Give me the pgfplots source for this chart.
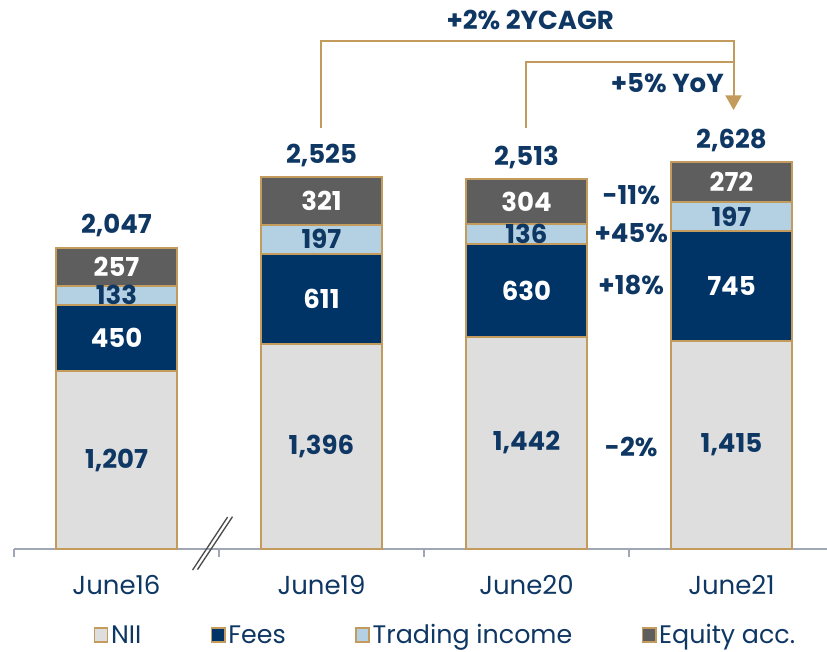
\documentclass[border=0pt]{standalone}
\usepackage{fontspec}
\setmainfont{Poppins}
\usepackage{pgfplots}
\pgfplotsset{compat=1.18}
\usepackage{pgfplotstable}
\usetikzlibrary{arrows.meta}
\definecolor{navy}{HTML}{0F3764}
\definecolor{fees}{HTML}{003366}
\definecolor{nii}{HTML}{DEDEDE}
\definecolor{trad}{HTML}{B3D1E3}
\definecolor{eq}{HTML}{5E5E5E}
\definecolor{tan}{HTML}{C39B5C}
\definecolor{axgrey}{HTML}{A0A6B4}

\pgfplotstableread{
x nii fees trad eq tot
0 1207 450 133 257 2047
1 1396 611 197 321 2525
2 1442 630 136 304 2513
3 1415 745 197 272 2628
}\data

\newcommand{\valfont}{\bfseries\fontsize{19.5}{23}\selectfont}
\newcommand{\lblfont}{\fontsize{19.5}{23}\selectfont}
\newcommand{\legfont}{\fontsize{19}{23}\selectfont}

\pgfplotsset{common/.style={
  at={(0,0)}, anchor=south west,
  scale only axis, width=609.75pt, height=411.75pt,
  xmin=-0.5, xmax=3.466, ymin=0, ymax=3730, clip=false,
  /pgf/number format/1000 sep={,},
  /pgf/number format/assume math mode=true}}

\begin{document}
\begin{tikzpicture}
\begin{axis}[
  common, name=ax,
  ybar stacked, bar width=90.75pt,
  axis x line*=bottom, axis y line=none,
  x axis line style={draw=axgrey, line width=1.5pt, -},
  xtick={0,1,2,3}, xticklabels={June16,June19,June20,June21},
  major tick length=0pt,
  minor xtick={-0.5,0.5,1.5,2.5},
  minor tick length=6pt,
  tick align=outside,
  minor tick style={draw=axgrey, line width=1.2pt},
  xticklabel style={anchor=center, yshift=-27pt, font=\lblfont, text=navy},
  point meta=explicit,
  nodes near coords,
  nodes near coords style={font=\valfont, anchor=center},
  legend style={at={(0.531,-0.157)}, anchor=center, legend columns=4, draw=none,
    font=\legfont, text=navy,
    /tikz/every even column/.append style={column sep=50pt}},
  legend image code/.code={\draw[#1, draw=tan, line width=1.2pt] (0pt,-5pt) rectangle (10pt,5.5pt);},
]
\addplot[fill=nii, draw=tan, line width=1.5pt, every node near coord/.append style={text=navy}] table[x=x, y=nii, meta=nii] {\data};
\addplot[fill=fees, draw=tan, line width=1.5pt, every node near coord/.append style={text=white}] table[x=x, y=fees, meta=fees] {\data};
\addplot[fill=trad, draw=tan, line width=1.5pt, every node near coord/.append style={text=navy}] table[x=x, y=trad, meta=trad] {\data};
\addplot[fill=eq, draw=tan, line width=1.5pt, every node near coord/.append style={text=white}] table[x=x, y=eq, meta=eq] {\data};
\legend{NII, Fees, Trading income, Equity acc.}

\draw[tan, line width=1.5pt, -{Triangle[width=12pt,length=11pt]}] (axis cs:1,2860) |- (axis cs:3.01,3451) -- (axis cs:3.01,2982);
\draw[tan, line width=1.5pt] (axis cs:2,2860) |- (axis cs:3.01,3308);
\node[font=\valfont, text=navy] at (axis cs:2.018,3594) {+2\% 2YCAGR};
\node[font=\valfont, text=navy] at (axis cs:2.687,3166) {+5\% YoY};
\node[font=\valfont, text=navy] at (axis cs:2.511,2405) {-11\%};
\node[font=\valfont, text=navy] at (axis cs:2.511,2147) {+45\%};
\node[font=\valfont, text=navy] at (axis cs:2.511,1793) {+18\%};
\node[font=\valfont, text=navy] at (axis cs:2.511,693) {-2\%};
\draw[black!70, line width=1pt] (axis cs:0.371,-143) -- (axis cs:0.542,217);
\draw[black!70, line width=1pt] (axis cs:0.395,-140) -- (axis cs:0.566,220);
\end{axis}
\begin{axis}[common, hide axis,
  point meta=explicit,
  nodes near coords,
  nodes near coords style={font=\valfont, text=navy, anchor=center, yshift=16.5pt}]
\addplot[only marks, mark=none, draw=none] table[x=x, y=tot, meta=tot] {\data};
\end{axis}
\pgfresetboundingbox
\path (ax.south west) ++(-10.5pt,-76.5pt) rectangle (ax.north east);
\end{tikzpicture}
\end{document}
